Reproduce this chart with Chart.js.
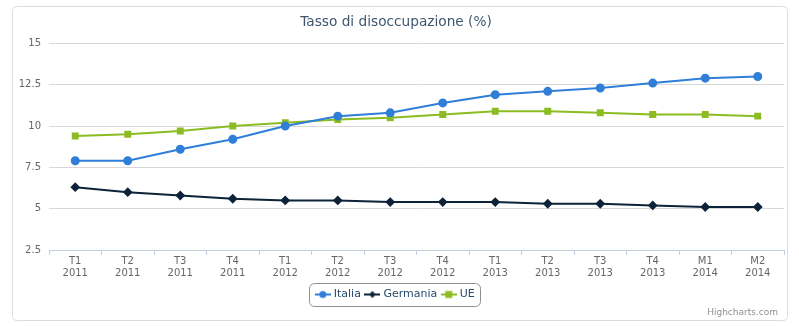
<!DOCTYPE html>
<html>
<head>
<meta charset="utf-8">
<script src="https://cdn.jsdelivr.net/npm/chart.js@4/dist/chart.umd.min.js"></script>
<style>
  html, body { margin: 0; padding: 0; background: #fff; }
  #wrap { width: 799px; height: 326px; position: relative; }
</style>
</head>
<body>
<div id="wrap"><canvas id="mainChart" width="799" height="326"></canvas></div>
<script>
// data
const periods = ["T1", "T2", "T3", "T4", "T1", "T2", "T3", "T4", "T1", "T2", "T3", "T4", "M1", "M2"]
const years = ["2011", "2011", "2011", "2011", "2012", "2012", "2012", "2012", "2013", "2013", "2013", "2013", "2014", "2014"]
const italia = [7.9, 7.9, 8.6, 9.2, 10.0, 10.6, 10.8, 11.4, 11.9, 12.1, 12.3, 12.6, 12.9, 13.0]
const germania = [6.3, 6.0, 5.8, 5.6, 5.5, 5.5, 5.4, 5.4, 5.4, 5.3, 5.3, 5.2, 5.1, 5.1]
const ue = [9.4, 9.5, 9.7, 10.0, 10.2, 10.4, 10.5, 10.7, 10.9, 10.9, 10.8, 10.7, 10.7, 10.6]

const labels = periods.map((p, i) => [p, years[i]])

const FONT = "'DejaVu Sans', Verdana, sans-serif"

// legend symbol: short line with the marker in the middle
function legendSymbol(color, shape) {
    const c = document.createElement('canvas')
    c.width = 16
    c.height = 10
    const g = c.getContext('2d')
    g.strokeStyle = color
    g.fillStyle = color
    g.lineWidth = 2
    g.beginPath()
    g.moveTo(0, 5)
    g.lineTo(16, 5)
    g.stroke()
    g.beginPath()
    if (shape === 'circle') {
        g.arc(8, 5, 3.5, 0, Math.PI * 2)
    } else if (shape === 'diamond') {
        g.moveTo(8, 1.5); g.lineTo(11.5, 5); g.lineTo(8, 8.5); g.lineTo(4.5, 5); g.closePath()
    } else {
        g.rect(4.5, 1.5, 7, 7)
    }
    g.fill()
    return c
}

const framePlugin = {
    id: 'frame',
    beforeDraw(chart) {
        const ctx = chart.ctx
        ctx.save()
        ctx.strokeStyle = '#dcdcdc'
        ctx.lineWidth = 1
        ctx.beginPath()
        ctx.roundRect(12.5, 6.5, 775, 314, 4)
        ctx.stroke()
        ctx.restore()
    },
    afterDraw(chart) {
        const ctx = chart.ctx
        const lg = chart.legend
        ctx.save()
        // legend border
        if (lg && lg.legendHitBoxes && lg.legendHitBoxes.length) {
            const boxes = lg.legendHitBoxes
            const x0 = boxes[0].left - 8
            const last = boxes[boxes.length - 1]
            const x1 = last.left + last.width + 6
            const y0 = boxes[0].top - 6
            const y1 = boxes[0].top + boxes[0].height + 6
            ctx.strokeStyle = '#909090'
            ctx.lineWidth = 1
            ctx.beginPath()
            ctx.roundRect(Math.round(x0) + 0.5, Math.round(y0) + 0.5, Math.round(x1 - x0), Math.round(y1 - y0), 5)
            ctx.stroke()
        }
        // credits
        ctx.fillStyle = '#909090'
        ctx.font = "9px " + FONT
        ctx.textAlign = 'right'
        ctx.textBaseline = 'alphabetic'
        ctx.fillText('Highcharts.com', 778, 315)
        ctx.restore()
    }
}

const ctx = document.getElementById('mainChart').getContext('2d')
const myChart = new Chart(ctx, {
    type: 'line',
    data: {
        labels: labels,
        datasets: [
            {
                label: 'Italia',
                data: italia,
                borderColor: '#2f7ed8',
                backgroundColor: '#2f7ed8',
                pointStyle: 'circle',
                pointRadius: 3.5,
                borderWidth: 2
            },
            {
                label: 'Germania',
                data: germania,
                borderColor: '#0d233a',
                backgroundColor: '#0d233a',
                pointStyle: 'rectRot',
                pointRadius: 3.5,
                borderWidth: 2
            },
            {
                label: 'UE',
                data: ue,
                borderColor: '#8bbc21',
                backgroundColor: '#8bbc21',
                pointStyle: 'rect',
                pointRadius: 3.5,
                borderWidth: 2
            }
        ]
    },
    options: {
        responsive: false,
        animation: false,
        devicePixelRatio: 1,
        layout: { padding: { left: 8, right: 15, top: 0, bottom: 16 } },
        elements: { line: { tension: 0 }, point: { borderWidth: 0 } },
        plugins: {
            title: {
                display: true,
                text: 'Tasso di disoccupazione (%)',
                color: '#3e576f',
                font: { family: FONT, size: 13.7, weight: 'normal' },
                padding: { top: 14, bottom: 13 }
            },
            legend: {
                position: 'bottom',
                labels: {
                    usePointStyle: true,
                    generateLabels(chart) {
                        const shapes = ['circle', 'diamond', 'square']
                        return chart.data.datasets.map((ds, i) => ({
                            text: ds.label,
                            datasetIndex: i,
                            pointStyle: legendSymbol(ds.borderColor, shapes[i]),
                            fontColor: '#274b6d',
                            hidden: false,
                            lineWidth: 0
                        }))
                    },
                    color: '#274b6d',
                    font: { family: FONT, size: 11 },
                    padding: 6,
                    boxWidth: 16,
                    boxHeight: 10
                }
            },
            tooltip: { enabled: false }
        },
        scales: {
            x: {
                offset: true,
                grid: {
                    offset: true,
                    drawOnChartArea: false,
                    drawTicks: true,
                    tickLength: 5,
                    color: '#c0d0e0'
                },
                border: { color: '#c0d0e0', width: 1 },
                ticks: {
                    color: '#666666',
                    font: { family: FONT, size: 10 },
                    maxRotation: 0,
                    autoSkip: false,
                    padding: 0
                },
                afterFit(scale) { scale.height = 33 }
            },
            y: {
                min: 2.5,
                max: 15,
                grid: { color: '#d8d8d8', drawTicks: false },
                border: { display: false },
                ticks: {
                    stepSize: 2.5,
                    color: '#666666',
                    font: { family: FONT, size: 10 },
                    padding: 8
                },
                afterFit(scale) { scale.width = 41 }
            }
        }
    },
    plugins: [framePlugin]
})
</script>
</body>
</html>
